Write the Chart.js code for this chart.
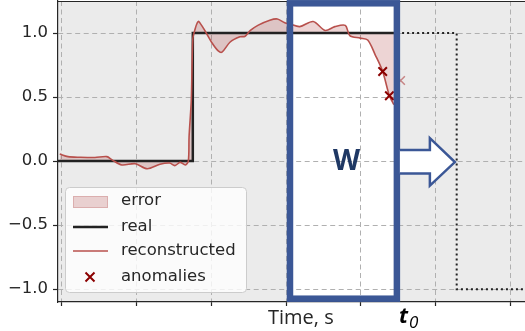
<!DOCTYPE html>
<html>
<head>
<meta charset="utf-8">
<script src="https://cdn.jsdelivr.net/npm/chart.js@4.4.1/dist/chart.umd.min.js"></script>
<style>
  body { margin: 0; background: #fff; }
  #wrap { position: relative; width: 525px; height: 331px; }
</style>
</head>
<body>
<div id="wrap"><canvas id="chart" width="525" height="331"></canvas></div>
<script>
// x grid positions (no labels on x) and y ticks
const xGrid = [0, 1, 2, 3, 4, 5, 6];
const yTicks = [-1, -0.5, 0, 0.5, 1];
const yTickLabels = ['\u22121.0', '\u22120.5', '0.0', '0.5', '1.0'];

// reconstructed signal
const reconTime = [-0.03, 0.08, 0.24, 0.44, 0.6, 0.67, 0.8, 0.98, 1.14, 1.31, 1.44, 1.51, 1.58, 1.65, 1.69,
  1.70, 1.73, 1.75, 1.78, 1.81, 1.83, 1.91, 2.01, 2.09, 2.14, 2.25, 2.38, 2.45, 2.52, 2.62, 2.78, 2.88,
  2.98, 3.05, 3.18, 3.36, 3.52, 3.65, 3.79, 3.85, 3.99, 4.09, 4.19, 4.29, 4.38, 4.44];
const reconValue = [0.055, 0.035, 0.03, 0.028, 0.035, 0.01, -0.03, -0.02, -0.06, -0.025, -0.015, -0.035, -0.01, -0.03, 0.0,
  0.19, 0.48, 0.95, 1.03, 1.08, 1.09, 1.02, 0.92, 0.86, 0.85, 0.93, 0.97, 0.975, 1.02, 1.06, 1.10, 1.11,
  1.08, 1.07, 1.05, 1.09, 1.02, 1.05, 1.06, 0.98, 0.96, 0.945, 0.83, 0.70, 0.51, 0.44];

// real signal up to t0, and its continuation after t0 (dotted)
const realTime = [-0.1, 1.75, 1.75, 4.48];
const realValue = [0, 0, 1, 1];
const futureTime = [4.55, 5.28, 5.28, 6.4];
const futureValue = [1, 1, -1, -1];

// anomalies
const anomalyTime = [4.29, 4.38];
const anomalyValue = [0.70, 0.51];
const ghostTime = [4.53];
const ghostValue = [0.63];

// window W ends at t0
const windowStart = 3.05;
const t0 = 4.48;

const legendLabels = ['error', 'real', 'reconstructed', 'anomalies'];

const RED = '#b8504c';
const DARKRED = '#8b0000';
const BLUE = '#3b5796';
const FILL = 'rgba(165, 42, 42, 0.2)';

const pts = (xs, ys) => xs.map((x, i) => ({ x: x, y: ys[i] }));
const noPadding = () => ({ left: 0, top: 0, right: 0, bottom: 0 });

// background + white window before the grid
const backdrop = {
  id: 'backdrop',
  beforeDraw(chart) {
    const { ctx, chartArea: a, scales: { x } } = chart;
    ctx.save();
    ctx.fillStyle = '#ebebeb';
    ctx.fillRect(a.left, a.top, a.right - a.left, a.bottom - a.top);
    const l = x.getPixelForValue(windowStart), r = x.getPixelForValue(t0);
    ctx.fillStyle = '#ffffff';
    ctx.fillRect(l, a.top, r - l, a.bottom - a.top);
    ctx.restore();
  }
};

// window box, arrow, axis text, legend
const overlay = {
  id: 'overlay',
  afterDraw(chart) {
    const { ctx, chartArea: a, scales: { x, y } } = chart;
    ctx.save();
    // top spine
    ctx.strokeStyle = '#262626';
    ctx.lineWidth = 1.2;
    ctx.beginPath();
    ctx.moveTo(a.left, a.top + 0.5);
    ctx.lineTo(a.right, a.top + 0.5);
    ctx.stroke();

    // window box
    const l = x.getPixelForValue(windowStart), r = x.getPixelForValue(t0);
    ctx.strokeStyle = BLUE;
    ctx.lineWidth = 6.5;
    ctx.strokeRect(l, a.top + 2.3, r - l, a.bottom - a.top - 5.6);

    // arrow
    const y0 = y.getPixelForValue(0);
    ctx.beginPath();
    ctx.moveTo(r + 3, y0 - 11);
    ctx.lineTo(r + 33, y0 - 11);
    ctx.lineTo(r + 33, y0 - 23);
    ctx.lineTo(r + 58, y0 + 1);
    ctx.lineTo(r + 33, y0 + 24.5);
    ctx.lineTo(r + 33, y0 + 12.5);
    ctx.lineTo(r + 3, y0 + 12.5);
    ctx.fillStyle = '#ffffff';
    ctx.fill();
    ctx.lineWidth = 2.5;
    ctx.lineJoin = 'miter';
    ctx.strokeStyle = BLUE;
    ctx.stroke();

    // W label
    ctx.fillStyle = '#1f3864';
    ctx.font = 'bold 28px "Open Sans"';
    ctx.textAlign = 'center';
    ctx.textBaseline = 'middle';
    ctx.fillText('W', (l + r) / 2 + 3, y0 + 1);

    // axis label and t0
    ctx.textAlign = 'left';
    ctx.textBaseline = 'alphabetic';
    ctx.fillStyle = '#262626';
    ctx.font = '20px "Open Sans"';
    ctx.fillText('Time, s', 268, 324);
    ctx.fillStyle = '#000';
    ctx.font = 'italic bold 22px "Open Sans"';
    ctx.fillText('t', r + 2, 323);
    ctx.font = 'italic 17px "Open Sans"';
    ctx.fillText('0', r + 12, 328);

    // legend
    ctx.beginPath();
    ctx.roundRect(65.5, 187.5, 181, 105, 4);
    ctx.fillStyle = 'rgba(255,255,255,0.8)';
    ctx.fill();
    ctx.strokeStyle = '#cccccc';
    ctx.lineWidth = 1;
    ctx.stroke();

    ctx.fillStyle = FILL;
    ctx.strokeStyle = FILL;
    ctx.fillRect(73, 196, 35, 12);
    ctx.strokeRect(73.5, 196.5, 34, 11);

    ctx.strokeStyle = '#222';
    ctx.lineWidth = 2.5;
    ctx.beginPath(); ctx.moveTo(73, 227); ctx.lineTo(108, 227); ctx.stroke();

    ctx.strokeStyle = RED;
    ctx.lineWidth = 1.6;
    ctx.beginPath(); ctx.moveTo(73, 251); ctx.lineTo(108, 251); ctx.stroke();

    ctx.strokeStyle = DARKRED;
    ctx.lineWidth = 2;
    ctx.beginPath();
    ctx.moveTo(85.5, 272.5); ctx.lineTo(94.5, 281.5);
    ctx.moveTo(94.5, 272.5); ctx.lineTo(85.5, 281.5);
    ctx.stroke();

    ctx.fillStyle = '#262626';
    ctx.font = '16.5px "DejaVu Sans"';
    ctx.textBaseline = 'middle';
    const rows = [201, 227, 251, 277];
    legendLabels.forEach((t, i) => ctx.fillText(t, 121, rows[i]));
    ctx.restore();
  }
};

const gridStyle = {
  color: '#b0b0b0',
  lineWidth: 1,
  drawTicks: true,
  tickLength: 5,
  tickColor: '#262626',
  tickWidth: 1.2,
  tickBorderDash: []
};

new Chart(document.getElementById('chart'), {
  type: 'line',
  data: {
    datasets: [
      {
        label: 'anomalies',
        data: pts(anomalyTime, anomalyValue),
        showLine: false,
        pointStyle: 'crossRot',
        pointRadius: 6,
        pointBorderWidth: 2,
        borderColor: DARKRED,
        pointBorderColor: DARKRED
      },
      {
        label: 'anomalies (next)',
        data: pts(ghostTime, ghostValue),
        showLine: false,
        pointStyle: 'crossRot',
        pointRadius: 6,
        pointBorderWidth: 1.5,
        borderColor: 'rgba(170, 50, 50, 0.55)',
        pointBorderColor: 'rgba(170, 50, 50, 0.55)'
      },
      {
        label: 'reconstructed',
        data: pts(reconTime, reconValue),
        borderColor: RED,
        borderWidth: 1.6,
        pointRadius: 0,
        tension: 0.3,
        fill: { target: 3 },
        backgroundColor: FILL
      },
      {
        label: 'real',
        data: pts(realTime, realValue),
        borderColor: '#222',
        borderWidth: 2.5,
        pointRadius: 0,
        fill: false
      },
      {
        label: 'real (future)',
        data: pts(futureTime, futureValue),
        borderColor: '#222',
        borderWidth: 2,
        borderDash: [2, 3],
        pointRadius: 0,
        fill: false
      }
    ]
  },
  options: {
    responsive: false,
    devicePixelRatio: 1,
    animation: false,
    layout: { autoPadding: false, padding: { top: 1, right: 0, bottom: 25, left: 0 } },
    plugins: {
      legend: { display: false },
      tooltip: { enabled: false },
      filler: { drawTime: 'beforeDatasetsDraw' }
    },
    scales: {
      x: {
        type: 'linear',
        min: -0.0535,
        max: 6.194,
        afterBuildTicks: s => { s.ticks = xGrid.map(v => ({ value: v })); },
        afterFit: s => {
          s.height = 4;
          s.paddingLeft = s.paddingRight = s.paddingTop = s.paddingBottom = 0;
          s.getPadding = noPadding;
        },
        ticks: { display: false },
        grid: Object.assign({}, gridStyle, { tickLength: 4 }),
        border: { display: true, color: '#262626', width: 1.2, dash: [5, 3.5] }
      },
      y: {
        type: 'linear',
        min: -1.1,
        max: 1.25,
        afterBuildTicks: s => { s.ticks = yTicks.map(v => ({ value: v })); },
        afterFit: s => {
          s.width = 58;
          s.paddingLeft = s.paddingRight = s.paddingTop = s.paddingBottom = 0;
          s.getPadding = noPadding;
        },
        ticks: {
          padding: 5,
          color: '#262626',
          font: { family: 'DejaVu Sans', size: 16.5 },
          callback: v => yTickLabels[yTicks.indexOf(v)]
        },
        grid: gridStyle,
        border: { display: true, color: '#262626', width: 1.2, dash: [5, 3.5] }
      }
    }
  },
  plugins: [backdrop, overlay]
});
</script>
</body>
</html>
